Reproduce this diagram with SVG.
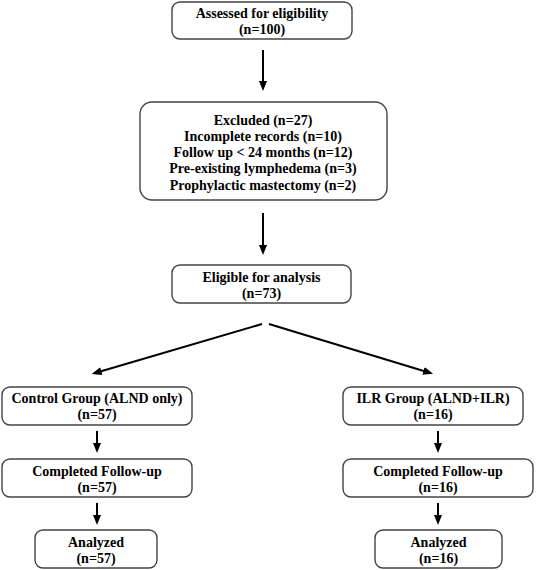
<svg xmlns="http://www.w3.org/2000/svg" width="536" height="570" viewBox="0 0 536 570">
<style>
.box{fill:#fff;stroke:#444;stroke-width:1.4}
.t{font-weight:bold;font-size:14px;fill:#000;text-anchor:middle}
.c{stroke:#000;stroke-width:2;fill:none}
</style>
<defs>
<marker id="ah" markerUnits="userSpaceOnUse" markerWidth="10" markerHeight="8" refX="2" refY="4" orient="auto">
<path d="M0,0 L10,4 L0,8 z" fill="#000"/>
</marker>
</defs>
<rect width="536" height="570" fill="#fff"/>
<g id="connectors">
<line class="c" x1="263" y1="50" x2="263" y2="83" marker-end="url(#ah)"/>
<line class="c" x1="263" y1="213" x2="263" y2="247" marker-end="url(#ah)"/>
<line class="c" x1="262" y1="324" x2="99.4" y2="371.7" marker-end="url(#ah)"/>
<line class="c" x1="269" y1="324" x2="425.4" y2="371.5" marker-end="url(#ah)"/>
<line class="c" x1="97" y1="431" x2="97" y2="445" marker-end="url(#ah)"/>
<line class="c" x1="97" y1="503" x2="97" y2="517" marker-end="url(#ah)"/>
<line class="c" x1="438" y1="431" x2="438" y2="445" marker-end="url(#ah)"/>
<line class="c" x1="438" y1="503" x2="438" y2="517" marker-end="url(#ah)"/>
</g>
<g font-family="Liberation Serif, Times New Roman, DejaVu Serif, serif">
<g id="assessed">
<rect class="box" x="172" y="2" width="180" height="37" rx="8"/>
<text class="t" x="262" y="18">Assessed for eligibility</text>
<text class="t" x="262" y="34">(n=100)</text>
</g>
<g id="excluded">
<rect class="box" x="140" y="102" width="247" height="98" rx="12"/>
<text class="t" x="263" y="124.5">Excluded (n=27)</text>
<text class="t" x="263" y="140.8">Incomplete records (n=10)</text>
<text class="t" x="263" y="157.1">Follow up &lt; 24 months (n=12)</text>
<text class="t" x="263" y="173.4">Pre-existing lymphedema (n=3)</text>
<text class="t" x="263" y="189.7">Prophylactic mastectomy (n=2)</text>
</g>
<g id="eligible">
<rect class="box" x="172" y="265" width="179" height="38" rx="8"/>
<text class="t" x="261.5" y="281.5">Eligible for analysis</text>
<text class="t" x="261.5" y="297.5">(n=73)</text>
</g>
<g id="control">
<rect class="box" x="2" y="387" width="190" height="38" rx="8"/>
<text class="t" x="97" y="402.5">Control Group (ALND only)</text>
<text class="t" x="97" y="418.5">(n=57)</text>
</g>
<g id="ilr">
<rect class="box" x="343" y="387" width="180" height="38" rx="8"/>
<text class="t" x="433" y="402.5">ILR Group (ALND+ILR)</text>
<text class="t" x="433" y="418.5">(n=16)</text>
</g>
<g id="control-followup">
<rect class="box" x="2" y="459" width="190" height="38" rx="8"/>
<text class="t" x="97" y="475.5">Completed Follow-up</text>
<text class="t" x="97" y="491.5">(n=57)</text>
</g>
<g id="ilr-followup">
<rect class="box" x="343" y="459" width="190" height="38" rx="8"/>
<text class="t" x="438" y="475.5">Completed Follow-up</text>
<text class="t" x="438" y="491.5">(n=16)</text>
</g>
<g id="control-analyzed">
<rect class="box" x="35" y="530" width="122" height="38" rx="8"/>
<text class="t" x="96" y="546.5">Analyzed</text>
<text class="t" x="96" y="562.5">(n=57)</text>
</g>
<g id="ilr-analyzed">
<rect class="box" x="375" y="530" width="127" height="38" rx="8"/>
<text class="t" x="438.5" y="546.5">Analyzed</text>
<text class="t" x="438.5" y="562.5">(n=16)</text>
</g>
</g>
</svg>
